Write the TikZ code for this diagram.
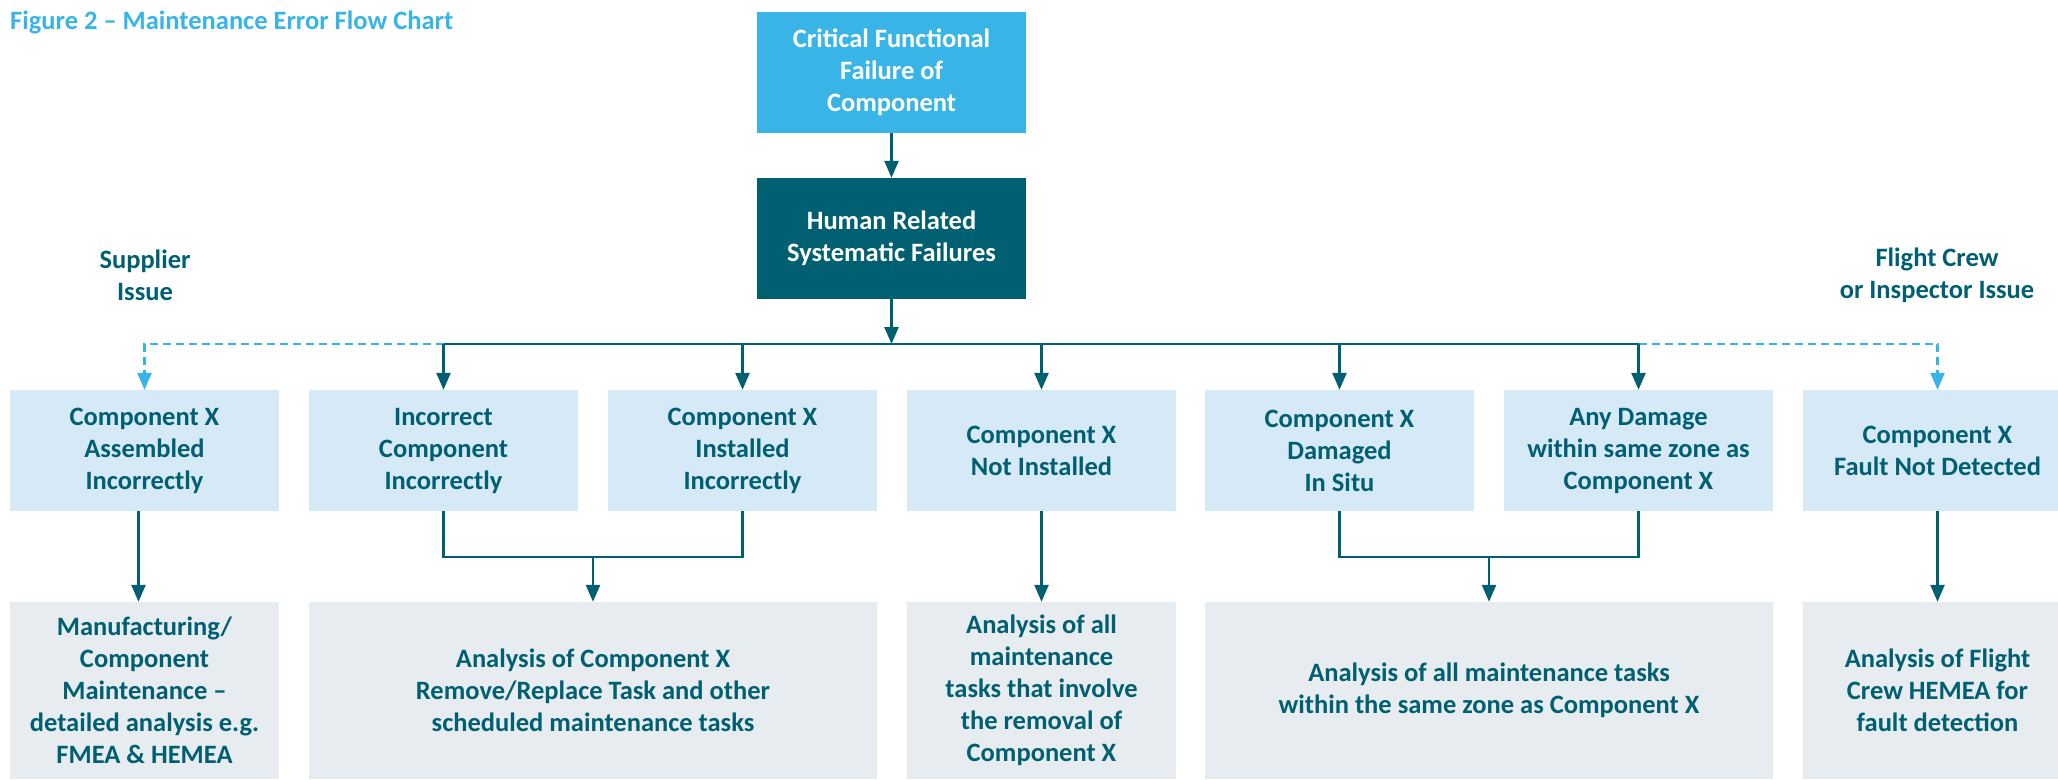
\documentclass[tikz,border=0pt]{standalone}
\usepackage{fontspec}
\setmainfont{Carlito}
\usetikzlibrary{arrows.meta,calc}
\definecolor{cyanbox}{HTML}{39B4E6}
\definecolor{tealdark}{HTML}{015F72}
\definecolor{rowone}{HTML}{D6E9F6}
\definecolor{rowtwo}{HTML}{E6ECEF}
\tikzset{
  base/.style={inner sep=0pt, align=center, font=\fontsize{26.5}{32}\selectfont\bfseries},
  topbox/.style={base, fill=cyanbox, text=white, minimum width=269pt, minimum height=121pt},
  hrbox/.style={base, fill=tealdark, text=white, minimum width=269pt, minimum height=121pt},
  catbox/.style={base, fill=rowone, text=tealdark, minimum width=269pt, minimum height=121pt},
  anbox/.style={base, fill=rowtwo, text=tealdark, minimum height=177pt},
  lbl/.style={base, text=tealdark},
  conn/.style={draw=tealdark, line width=2.5pt},
  arr/.style={conn, -{Triangle[length=17pt,width=14pt]}},
  dconn/.style={draw=cyanbox, line width=2.5pt, dash pattern=on 8pt off 5pt, -{Triangle[length=17pt,width=14pt]}}
}
\begin{document}
\begin{tikzpicture}[x=1pt,y=-1pt]
\useasboundingbox (0,0) rectangle (2058,779);
\clip (0,0) rectangle (2058,779);
\node[base, text=cyanbox, anchor=base west] (title) at (10,29) {Figure 2 – Maintenance Error Flow Chart};
\node[topbox] (b1) at (891.5,72.5) {Critical Functional\\Failure of\\Component};
\node[hrbox] (b2) at (891.5,238.5) {Human Related\\Systematic Failures};
\node[lbl] (sup) at (145,275) {Supplier\\Issue};
\node[lbl] (fc) at (1937,275) {Flight Crew\\or Inspector Issue};
\node[catbox] (A) at (144.5,450.5) {Component X\\Assembled\\Incorrectly};
\node[catbox] (B) at (443.5,450.5) {Incorrect\\Component\\Incorrectly};
\node[catbox] (C) at (742.5,450.5) {Component X\\Installed\\Incorrectly};
\node[catbox] (D) at (1041.5,450.5) {Component X\\Not Installed};
\node[catbox] (E) at (1339.5,450.5) {Component X\\Damaged\\In Situ};
\node[catbox] (F) at (1638.5,450.5) {Any Damage\\within same zone as\\Component X};
\node[catbox] (G) at (1937.5,450.5) {Component X\\Fault Not Detected};
\node[anbox, minimum width=269pt] (RA) at (144.5,690.5) {Manufacturing/\\Component\\Maintenance –\\detailed analysis e.g.\\FMEA \& HEMEA};
\node[anbox, minimum width=568pt] (RB) at (593,690.5) {Analysis of Component X\\Remove/Replace Task and other\\scheduled maintenance tasks};
\node[anbox, minimum width=269pt] (RC) at (1041.5,690.5) {Analysis of all\\maintenance\\tasks that involve\\the removal of\\Component X};
\node[anbox, minimum width=568pt] (RD) at (1489,690.5) {Analysis of all maintenance tasks\\within the same zone as Component X};
\node[anbox, minimum width=269pt] (RE) at (1937.5,690.5) {Analysis of Flight\\Crew HEMEA for\\fault detection};
\coordinate (bus) at (891.5,344);
\coordinate (m) at (0,557);
% top chain
\draw[arr] (b1.south) -- (b2.north);
\draw[arr] (b2.south) -- (bus);
% bus
\draw[dconn] (B.north |- bus) -- (A.north |- bus) -- (A.north);
\draw[dconn] (F.north |- bus) -- (G.north |- bus) -- (G.north);
\draw[conn] (B.north |- bus) -- (F.north |- bus);
\foreach \n in {B,C,D,E,F} { \draw[arr] (\n.north |- bus) -- (\n.north); }
% lower
\draw[arr] ([xshift=-6pt]A.south) -- ([xshift=-6pt]RA.north);
\draw[conn] (B.south) -- (B.south |- m) -- (C.south |- m) -- (C.south);
\draw[arr] (RB.north |- m) -- (RB.north);
\draw[arr] (D.south) -- (RC.north);
\draw[conn] (E.south) -- (E.south |- m) -- (F.south |- m) -- (F.south);
\draw[arr] (RD.north |- m) -- (RD.north);
\draw[arr] (G.south) -- (RE.north);
\end{tikzpicture}
\end{document}
